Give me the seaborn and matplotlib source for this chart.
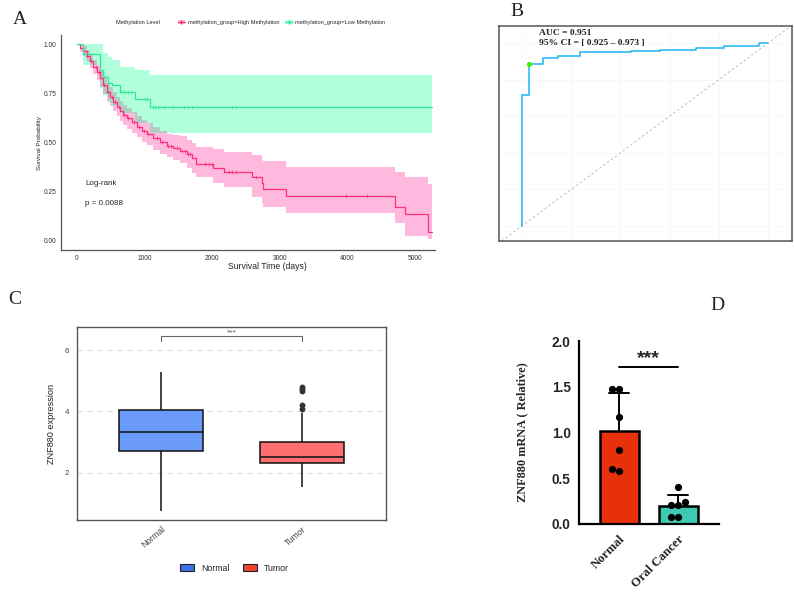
"""Four-panel ZNF880 figure: KM survival, ROC, expression boxplot, qPCR bars."""

import matplotlib

matplotlib.use("Agg")
import matplotlib.pyplot as plt
import numpy as np
import pandas as pd
import seaborn as sns
from matplotlib.lines import Line2D
from matplotlib.patches import Patch

# ---- A: Kaplan-Meier by methylation level ----
high_time = [0, 49, 98, 147, 197, 246, 295, 344, 394, 443, 492, 541, 591, 640, 689, 738, 812, 886,
             960, 1034, 1132, 1230, 1329, 1427, 1526, 1625, 1700, 1760, 2018, 2180, 2585, 2733, 2757,
             3090, 4702, 4840, 5190, 5250]
high_surv = [1.000, 0.981, 0.964, 0.941, 0.914, 0.885, 0.856, 0.826, 0.792, 0.758, 0.733, 0.707, 0.682,
             0.660, 0.640, 0.623, 0.602, 0.581, 0.558, 0.541, 0.521, 0.501, 0.484, 0.472, 0.458, 0.442,
             0.420, 0.391, 0.369, 0.352, 0.323, 0.292, 0.262, 0.227, 0.174, 0.136, 0.044, 0.044]
high_upper = [1.000, 0.995, 0.988, 0.970, 0.947, 0.921, 0.895, 0.867, 0.836, 0.804, 0.781, 0.756, 0.732,
              0.711, 0.692, 0.676, 0.656, 0.636, 0.614, 0.598, 0.579, 0.560, 0.545, 0.540, 0.533, 0.513,
              0.495, 0.479, 0.466, 0.454, 0.437, 0.411, 0.405, 0.374, 0.352, 0.327, 0.290, 0.290]
high_lower = [1.000, 0.960, 0.938, 0.910, 0.880, 0.848, 0.816, 0.784, 0.748, 0.712, 0.686, 0.659, 0.633,
              0.610, 0.588, 0.570, 0.548, 0.526, 0.503, 0.485, 0.464, 0.443, 0.425, 0.410, 0.394, 0.369,
              0.345, 0.327, 0.296, 0.272, 0.225, 0.195, 0.174, 0.140, 0.093, 0.027, 0.008, 0.008]
high_censor = [150, 220, 280, 330, 400, 460, 520, 570, 620, 700, 760, 850, 920, 1000, 1050, 1180, 1260,
               1350, 1400, 1480, 1560, 1600, 1640, 1680, 1900, 1950, 2000, 2250, 2300, 2350, 2650, 3980, 4280]

low_time = [0, 98, 344, 394, 468, 517, 640, 862, 1083, 5250]
low_surv = [1.000, 0.949, 0.866, 0.834, 0.800, 0.790, 0.758, 0.719, 0.679, 0.679]
low_upper = [1.000, 1.000, 1.000, 0.953, 0.935, 0.920, 0.885, 0.868, 0.843, 0.843]
low_lower = [1.000, 0.893, 0.775, 0.740, 0.700, 0.685, 0.648, 0.600, 0.547, 0.547]
low_censor = [650, 700, 760, 800, 1010, 1040, 1130, 1160, 1200, 1290, 1430, 1580, 1640, 1700, 2290, 2360]

km_labels = ["methylation_group=High Methylation", "methylation_group=Low Methylation"]
logrank_p = "0.0088"

# ---- B: ROC ----
roc_fpr = [0.0, 0.0, 0.030, 0.086, 0.147, 0.235, 0.444, 0.559, 0.707, 0.822, 0.964, 1.0]
roc_tpr = [0.0, 0.717, 0.884, 0.916, 0.929, 0.949, 0.958, 0.964, 0.975, 0.983, 1.0, 1.0]
best_fpr, best_tpr = 0.030, 0.884
auc_text = "AUC = 0.951"
ci_text = "95% CI = [ 0.925 \u2013 0.973 ]"

# ---- C: expression boxplot ----
groups_c = ["Normal", "Tumor"]
normal_expr = [0.76, 2.70, 3.34, 4.05, 5.27]
tumor_expr = [1.54, 1.85, 2.02, 2.14, 2.22, 2.29, 2.33, 2.36, 2.40, 2.43, 2.46, 2.49, 2.51,
              2.58, 2.66, 2.74, 2.83, 2.92, 3.00, 3.96, 4.07, 4.20, 4.66, 4.74, 4.80]

# ---- D: qPCR ----
groups_d = ["Normal", "Oral Cancer"]
normal_rel = [1.474, 1.474, 1.167, 0.811, 0.581, 0.600]
oral_rel = [0.400, 0.200, 0.240, 0.200, 0.073, 0.073]

PINK, GREEN = "#FF2F7E", "#2EEA96"
SERIF = ["Liberation Serif", "DejaVu Serif"]


def censor_y(times, surv, censors):
    idx = np.searchsorted(times, censors, side="right") - 1
    return np.asarray(surv)[idx]


def plot_km(ax):
    for t, s, lo, hi, cen, line, fill in [
        (high_time, high_surv, high_lower, high_upper, high_censor, PINK, "#FF1493"),
        (low_time, low_surv, low_lower, low_upper, low_censor, GREEN, "#00FF88"),
    ]:
        ax.fill_between(t, lo, hi, step="post", color=fill, alpha=0.3, linewidth=0)
        sns.lineplot(x=t, y=s, drawstyle="steps-post", estimator=None, sort=False,
                     color=line, linewidth=0.9, ax=ax)
        sns.scatterplot(x=cen, y=censor_y(t, s, cen), marker="+", s=9, linewidth=0.5,
                        color=line, ax=ax, zorder=3)
    ax.set_xlim(-230, 5290)
    ax.set_ylim(-0.046, 1.046)
    ax.set_xticks([0, 1000, 2000, 3000, 4000, 5000])
    ax.set_yticks([0, 0.25, 0.5, 0.75, 1.0])
    ax.set_yticklabels(["0.00", "0.25", "0.50", "0.75", "1.00"])
    for side in ["top", "right"]:
        ax.spines[side].set_visible(False)
    for side in ["left", "bottom"]:
        ax.spines[side].set_color("#555555")
        ax.spines[side].set_linewidth(0.9)
    ax.tick_params(labelsize=4.8, length=2, width=0.6, color="#555555", labelcolor="#333333", pad=1.5)
    ax.set_xlabel("Survival Time (days)", fontsize=6.2)
    ax.xaxis.set_label_coords(0.553, -0.056)
    ax.set_ylabel("Survival Probability", fontsize=4.6)
    ax.yaxis.set_label_coords(-0.05, 0.5)
    ax.text(123, 0.293, "Log-rank", fontsize=5.8, va="center")
    ax.text(123, 0.191, f"p = {logrank_p}", fontsize=5.8, va="center")
    handles = [
        (Patch(facecolor="#FF1493", alpha=0.3, linewidth=0), Line2D([], [], color=PINK, marker="+", lw=0.8, ms=3)),
        (Patch(facecolor="#00FF88", alpha=0.3, linewidth=0), Line2D([], [], color=GREEN, marker="+", lw=0.8, ms=3)),
    ]
    ax.legend(handles, km_labels, ncol=2, loc="center", bbox_to_anchor=(0.59, 1.056), frameon=False,
              fontsize=4.1, handlelength=1.3, handletextpad=0.5, columnspacing=1.0)
    ax.text(0.148, 1.056, "Methylation Level", transform=ax.transAxes, fontsize=4.1, va="center")


def plot_roc(ax):
    ax.axline((0, 0), (1, 1), color="#BBBBBB", linestyle=(0, (2.5, 2.5)), linewidth=0.7, zorder=1)
    sns.lineplot(x=roc_fpr, y=roc_tpr, drawstyle="steps-post", estimator=None, sort=False,
                 color="#1CB5F2", linewidth=1.1, ax=ax, zorder=2)
    sns.scatterplot(x=[best_fpr], y=[best_tpr], color="#3CF000", s=14, linewidth=0, ax=ax, zorder=3)
    ax.set_xlim(-0.093, 1.097)
    ax.set_ylim(-0.082, 1.093)
    ticks = [0, 0.2, 0.4, 0.6, 0.8, 1.0]
    ax.set_xticks(ticks)
    ax.set_yticks(ticks)
    ax.set_xticklabels([])
    ax.set_yticklabels([])
    ax.grid(True, color="#F7F7F7", linewidth=0.6)
    for side in ax.spines.values():
        side.set_color("#555555")
        side.set_linewidth(1.1)
    ax.tick_params(length=4, width=0.8, color="#555555", direction="out")
    ax.text(0.069, 1.055, auc_text, fontsize=6.8, fontweight="bold", family=SERIF, va="center", color="#222222")
    ax.text(0.069, 1.0, ci_text, fontsize=6.8, fontweight="bold", family=SERIF, va="center", color="#222222")


def plot_box(ax):
    expr = pd.DataFrame({
        "group": [groups_c[0]] * len(normal_expr) + [groups_c[1]] * len(tumor_expr),
        "expression": normal_expr + tumor_expr,
    })
    ax.grid(True, axis="y", color="#DDDDDD", linestyle=(0, (5, 4)), linewidth=0.8)
    ax.grid(True, axis="x", color="#E8E8E8", linewidth=0.8)
    ax.set_axisbelow(True)
    sns.boxplot(data=expr, x="group", y="expression", hue="group", order=groups_c,
                palette={"Normal": "#6A9BF8", "Tumor": "#FF6F6F"}, saturation=1, width=0.6,
                linecolor="#111111", linewidth=1.1, showcaps=False, legend=False,
                flierprops=dict(marker="o", markerfacecolor="#333333", markeredgecolor="#333333",
                                markersize=3.2), ax=ax)
    ax.set_xlim(-0.6, 1.6)
    ax.set_ylim(0.46, 6.75)
    ax.set_yticks([2, 4, 6])
    for side in ax.spines.values():
        side.set_color("#555555")
        side.set_linewidth(1.0)
    ax.tick_params(axis="y", labelsize=5.8, labelcolor="#444444", length=2, width=0.6, color="#777777")
    ax.tick_params(axis="x", labelsize=6.2, labelcolor="#444444", length=0)
    plt.setp(ax.get_xticklabels(), rotation=40, ha="right", rotation_mode="anchor")
    ax.set_xlabel("")
    ax.set_ylabel("ZNF880 expression", fontsize=6.6, color="#222222")
    ax.yaxis.set_label_coords(-0.068, 0.5)
    # significance bracket
    ax.plot([0, 0, 1, 1], [6.30, 6.47, 6.47, 6.30], color="#666666", linewidth=0.8)
    ax.text(0.5, 6.56, "***", ha="center", va="center", fontsize=6, color="#555555")
    handles = [Patch(facecolor="#3F72E8", edgecolor="#222222", linewidth=0.8),
               Patch(facecolor="#EF4631", edgecolor="#222222", linewidth=0.8)]
    ax.legend(handles, groups_c, ncol=2, loc="center", bbox_to_anchor=(0.51, -0.25), frameon=False,
              fontsize=6.3, handlelength=1.6, handleheight=0.8, columnspacing=1.5)


def plot_bars(ax):
    qpcr = pd.DataFrame({
        "group": [groups_d[0]] * len(normal_rel) + [groups_d[1]] * len(oral_rel),
        "value": normal_rel + oral_rel,
    })
    sns.barplot(data=qpcr, x="group", y="value", hue="group", order=groups_d,
                palette={"Normal": "#E8300B", "Oral Cancer": "#3CCAB2"}, saturation=1,
                errorbar="sd", capsize=0.34, err_kws={"color": "black", "linewidth": 1.4, "zorder": 0.5},
                edgecolor="black", linewidth=1.8, width=0.66, legend=False, ax=ax)
    sns.swarmplot(data=qpcr, x="group", y="value", order=groups_d, color="black", size=5.2,
                  ax=ax, zorder=3)
    ax.set_xlim(-0.68, 1.69)
    ax.set_ylim(0, 2.0)
    ax.set_yticks([0, 0.5, 1.0, 1.5, 2.0])
    ax.set_yticklabels(["0.0", "0.5", "1.0", "1.5", "2.0"], fontweight="bold", fontsize=9.8)
    for side in ["top", "right"]:
        ax.spines[side].set_visible(False)
    for side in ["left", "bottom"]:
        ax.spines[side].set_linewidth(1.6)
        ax.spines[side].set_color("black")
    ax.tick_params(axis="y", length=4, width=1.4, color="black", pad=2)
    ax.tick_params(axis="x", length=5, width=1.4, color="black", pad=2)
    ax.set_xticks([0, 1])
    ax.set_xticklabels(groups_d, rotation=45, ha="right", rotation_mode="anchor",
                       fontweight="bold", fontsize=9.2, family=SERIF)
    ax.set_xlabel("")
    ax.set_ylabel("ZNF880 mRNA ( Relative)", fontweight="bold", fontsize=8.8, family=SERIF)
    ax.yaxis.set_label_coords(-0.36, 0.5)
    ax.plot([0, 1], [1.715, 1.715], color="black", linewidth=1.4)
    ax.text(0.5, 1.81, "***", ha="center", va="center", fontsize=14, fontweight="bold")


def main():
    sns.set_theme(style="white")
    plt.rcParams["font.family"] = ["Liberation Sans", "DejaVu Sans"]
    fig = plt.figure(figsize=(7.94, 5.95), dpi=100)
    W, H = 794, 595

    def axes_px(left, right, top, bottom):
        return fig.add_axes([left / W, 1 - bottom / H, (right - left) / W, (bottom - top) / H])

    plot_km(axes_px(61, 435, 35, 250))
    plot_roc(axes_px(499, 792, 26, 241))
    plot_box(axes_px(77, 386, 327, 520))
    plot_bars(axes_px(579, 719, 341.3, 523.7))

    for label, x, y in [("A", 20, 20), ("B", 517, 11), ("C", 15, 300), ("D", 717, 305)]:
        fig.text(x / W, 1 - y / H, label, fontsize=14, family=SERIF, ha="center", va="center", color="#222222")

    fig.savefig("out.png", dpi=100)
    plt.close(fig)


if __name__ == "__main__":
    main()
